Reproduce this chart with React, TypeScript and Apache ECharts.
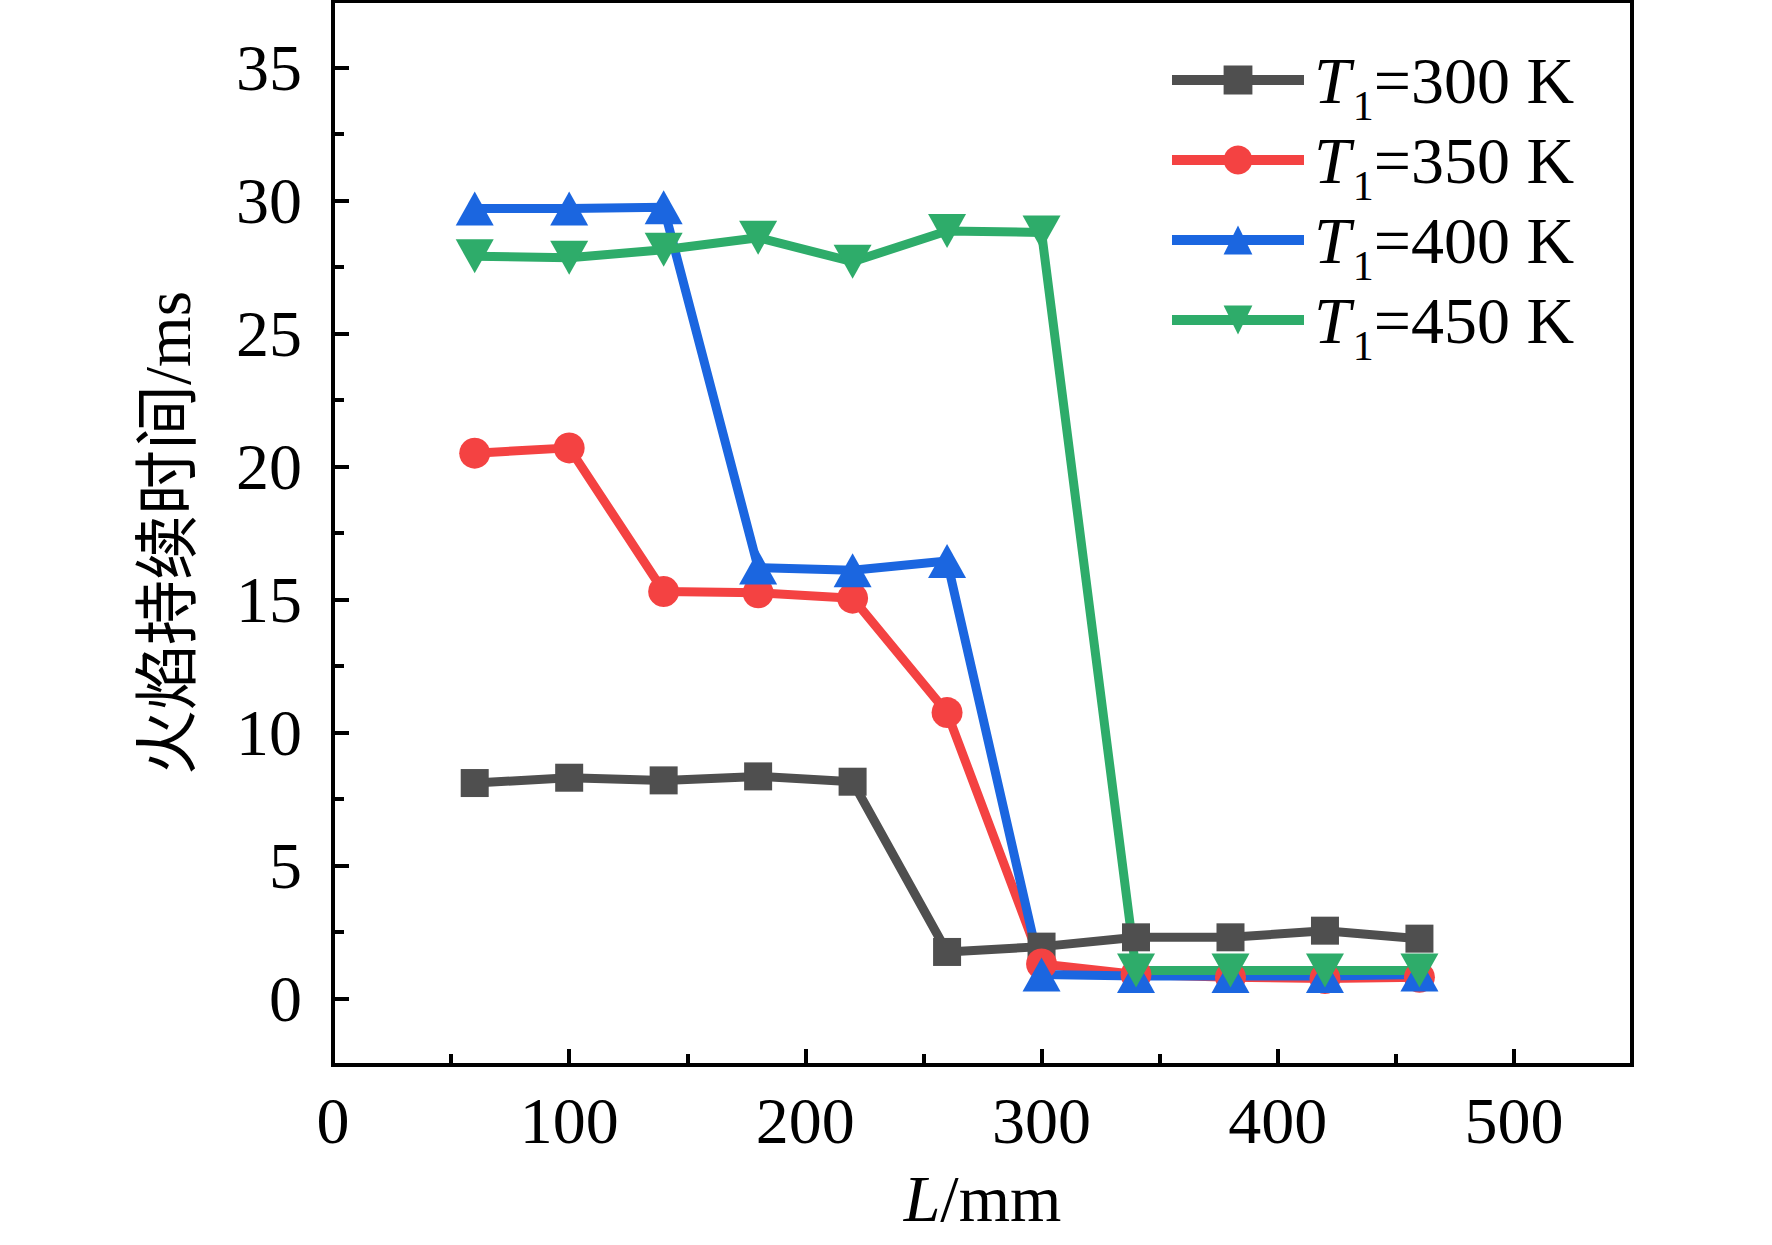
import React, { useEffect, useRef } from "react";
import * as echarts from "echarts";

const xValues = [60, 100, 140, 180, 220, 260, 300, 340, 380, 420, 460];
const t300 = [8.1, 8.3, 8.2, 8.35, 8.15, 1.75, 1.95, 2.3, 2.3, 2.55, 2.25];
const t350 = [20.5, 20.7, 15.3, 15.25, 15.05, 10.75, 1.3, 0.9, 0.8, 0.75, 0.8];
const t400 = [29.7, 29.7, 29.75, 16.2, 16.1, 16.45, 0.9, 0.85, 0.85, 0.85, 0.9];
const t450 = [27.9, 27.85, 28.15, 28.6, 27.7, 28.85, 28.8, 1.05, 1.05, 1.05, 1.05];

const temps = ["300", "350", "400", "450"];
const seriesNames = temps.map((t) => `T1=${t} K`);
const colors = ["#4F4F4F", "#F44242", "#1B66E0", "#2EAC6A"];
const symbols = ["rect", "circle", "triangle", "triangle"];
const symbolRotations = [0, 0, 0, 180];
const symbolSizes: (number | number[])[] = [28, 31, [38, 34], [38, 34]];

const xMajorTicks = [0, 100, 200, 300, 400, 500];
const xMinorTicks = [50, 150, 250, 350, 450];
const yMajorTicks = [0, 5, 10, 15, 20, 25, 30, 35];
const yMinorTicks = [2.5, 7.5, 12.5, 17.5, 22.5, 27.5, 32.5];

const SERIF = "'Liberation Serif', 'Times New Roman', serif";
const CJK = "'Liberation Serif', 'Noto Sans CJK SC', serif";

export default function App() {
  const ref = useRef<HTMLDivElement>(null);
  useEffect(() => {
    if (!ref.current) return;
    const chart = echarts.init(ref.current, null, { renderer: "svg" });
    const allData = [t300, t350, t400, t450];
    const axisLineStyle = { color: "#000", width: 4 };
    const labelStyle = { fontFamily: SERIF, fontSize: 66, color: "#000" };
    chart.setOption({
      animation: false,
      backgroundColor: "#fff",
      grid: {
        left: 333,
        right: 140,
        top: 1,
        bottom: 180,
        show: true,
        borderColor: "#000",
        borderWidth: 4,
        backgroundColor: "transparent",
      },
      legend: {
        orient: "vertical",
        left: 1162,
        top: 28,
        padding: 5,
        itemWidth: 132,
        itemHeight: 36,
        itemGap: -14,
        data: seriesNames,
        lineStyle: { width: 10 },
        formatter: (name: string) => {
          const idx = seriesNames.indexOf(name);
          return `{i|T}{s|1}{n|=${temps[idx]} K}`;
        },
        textStyle: {
          fontFamily: SERIF,
          fontSize: 66,
          color: "#000",
          rich: {
            i: { fontFamily: SERIF, fontSize: 66, fontStyle: "italic", color: "#000", lineHeight: 66, padding: [0, 0, 0, 5] },
            s: { fontFamily: SERIF, fontSize: 42, color: "#000", lineHeight: 20, padding: [52, 0, 0, 2] },
            n: { fontFamily: SERIF, fontSize: 66, color: "#000", lineHeight: 66 },
          },
        },
      },
      xAxis: [
        {
          type: "value",
          min: 0,
          max: 550,
          position: "bottom",
          name: "{i|L}{n|/mm}",
          nameLocation: "middle",
          nameGap: 100,
          nameTextStyle: {
            fontFamily: SERIF,
            fontSize: 66,
            color: "#000",
            rich: {
              i: { fontFamily: SERIF, fontSize: 66, fontStyle: "italic", color: "#000" },
              n: { fontFamily: SERIF, fontSize: 66, color: "#000" },
            },
          },
          axisLine: { show: true, onZero: false, lineStyle: axisLineStyle },
          axisTick: { show: true, inside: true, length: 16, lineStyle: axisLineStyle, customValues: xMajorTicks },
          axisLabel: { ...labelStyle, margin: 22, customValues: xMajorTicks },
          splitLine: { show: false },
        },
        {
          type: "value",
          min: 0,
          max: 550,
          position: "bottom",
          axisLine: { show: false, onZero: false },
          axisTick: { show: true, inside: true, length: 11, lineStyle: axisLineStyle, customValues: xMinorTicks },
          axisLabel: { show: false },
          splitLine: { show: false },
        },
      ],
      yAxis: [
        {
          type: "value",
          min: -2.5,
          max: 37.5,
          position: "left",
          name: "火焰持续时间/ms",
          nameLocation: "middle",
          nameGap: 133,
          nameRotate: 90,
          nameTextStyle: { fontFamily: CJK, fontSize: 65, color: "#000" },
          axisLine: { show: true, onZero: false, lineStyle: axisLineStyle },
          axisTick: { show: true, inside: true, length: 16, lineStyle: axisLineStyle, customValues: yMajorTicks },
          axisLabel: { ...labelStyle, margin: 31, customValues: yMajorTicks },
          splitLine: { show: false },
        },
        {
          type: "value",
          min: -2.5,
          max: 37.5,
          position: "left",
          axisLine: { show: false, onZero: false },
          axisTick: { show: true, inside: true, length: 11, lineStyle: axisLineStyle, customValues: yMinorTicks },
          axisLabel: { show: false },
          splitLine: { show: false },
        },
      ],
      series: seriesNames.map((name, si) => ({
        name,
        type: "line",
        xAxisIndex: 0,
        yAxisIndex: 0,
        data: xValues.map((x, i) => [x, allData[si][i]]),
        symbol: symbols[si],
        symbolRotate: symbolRotations[si],
        symbolSize: symbolSizes[si],
        showAllSymbol: true,
        lineStyle: { color: colors[si], width: 9 },
        itemStyle: { color: colors[si] },
        emphasis: { disabled: true },
      })),
    });
    return () => chart.dispose();
  }, []);
  return (
    <div
      ref={ref}
      style={{ position: "fixed", left: 0, top: 0, width: 1772, height: 1245, background: "#fff" }}
    />
  );
}
